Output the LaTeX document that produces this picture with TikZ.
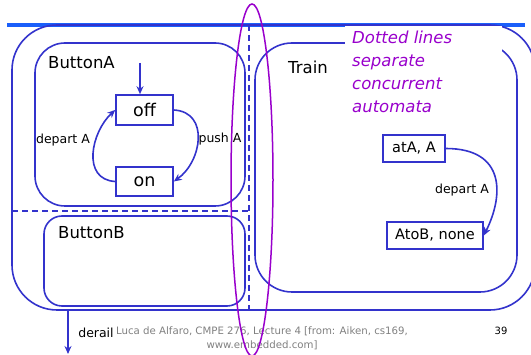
\documentclass[tikz,border=0pt]{standalone}
\usepackage{fontspec}
\setmainfont{DejaVu Sans}
\usetikzlibrary{arrows.meta}
\definecolor{frameblue}{RGB}{51,51,204}
\definecolor{railblue}{RGB}{26,95,250}
\definecolor{notepurple}{RGB}{153,0,204}
\definecolor{footgray}{RGB}{128,128,128}
\begin{document}
\begin{tikzpicture}[x=1pt,y=-1pt,
  container/.style={draw=frameblue, line width=1.6pt, rectangle, inner sep=0pt},
  state/.style={draw=frameblue, line width=1.6pt, fill=white, inner sep=0pt, font=\fontsize{17.5}{18}\selectfont},
  trans/.style={draw=frameblue, line width=1.6pt, -{Stealth[length=8pt,width=7pt]}},
  lbl/.style={font=\fontsize{12.5}{14}\selectfont, inner sep=0pt},
  title/.style={font=\fontsize{16.5}{18}\selectfont, inner sep=0pt, anchor=west},
  sep/.style={draw=frameblue, line width=1.6pt, dash pattern=on 6pt off 4pt},
  footer/.style={font=\fontsize{10.2}{14}\selectfont, inner sep=0pt}]
\useasboundingbox (0,0) rectangle (531,355);
\clip (0,0) rectangle (531,355);

% rail across the top
\coordinate (railL) at (7,25);
\coordinate (railR) at (525,25);
\draw[railblue, line width=3.2pt] (railL) -- (railR);

% containers
\node[container, rounded corners=45pt, minimum width=523pt, minimum height=285pt] (outer) at (273.5,167.5) {};
\node[container, rounded corners=30pt, minimum width=210pt, minimum height=163pt] (buttonA) at (140,124.5) {};
\node[container, rounded corners=18pt, minimum width=201pt, minimum height=90pt] (buttonB) at (144.5,261) {};
\node[container, rounded corners=37pt, minimum width=262pt, minimum height=249pt] (train) at (386,167.5) {};

% separators between concurrent parts
\coordinate (vtop) at (249,25);
\coordinate (vbot) at (249,310);
\coordinate (hl) at (12,211);
\coordinate (hr) at (249,211);
\draw[sep] (vtop) -- (vbot);
\draw[sep] (hl) -- (hr);

% note
\fill[white] (345,25.6) rectangle (502,118);
\node[anchor=north west, inner sep=0pt, align=left, text=notepurple,
      font=\itshape\fontsize{16.5}{23}\selectfont] (note) at (352,31)
      {Dotted lines\\separate\\concurrent\\automata};

% titles
\node[title] (tA) at (48,63) {ButtonA};
\node[title] (tT) at (288,67) {Train};
\node[title] (tB) at (58,233) {ButtonB};

% states
\node[state, minimum width=57pt, minimum height=30pt] (off) at (144.5,110) {off};
\node[state, minimum width=57pt, minimum height=29pt] (on) at (144.5,181.5) {on};
\node[state, minimum width=62pt, minimum height=27pt, font=\fontsize{14.5}{16}\selectfont] (atA) at (414,148.5) {atA, A};
\node[state, minimum width=96pt, minimum height=27pt, font=\fontsize{14.5}{16}\selectfont] (AtoB) at (435,235.5) {AtoB, none};

% transitions
\coordinate (initA) at (140,63);
\draw[trans] (initA) -- (initA |- off.north);
\draw[trans] (off.east) .. controls +(36,2) and +(28,-20) .. (on.east);
\draw[trans] (on.west) .. controls +(-34,-2) and +(-24,22) .. (off.west);
\draw[trans] (atA.east) .. controls +(60,0) and +(20,-40) .. (AtoB.east);
\node[lbl] (lDepA) at (63,140) {depart A};
\node[lbl] (lPushA) at (220,139) {push A};
\node[lbl] (lDepT) at (462,190) {depart A};

% derail exit
\coordinate (derailEnd) at (68,354);
\draw[trans] (derailEnd |- outer.south) -- (derailEnd);
\node[lbl] (lDerail) at (96,333) {derail};

% footer
\node[footer, text=footgray, align=center] (foot) at (262,338)
  {Luca de Alfaro, CMPE 276, Lecture 4 [from: Aiken, cs169,\\www.embedded.com]};
\node[footer, font=\fontsize{10}{12}\selectfont] (page) at (501,331) {39};

% grouping ellipse
\draw[notepurple, line width=1.5pt] (252,180) ellipse [x radius=21, y radius=176];
\end{tikzpicture}
\end{document}
